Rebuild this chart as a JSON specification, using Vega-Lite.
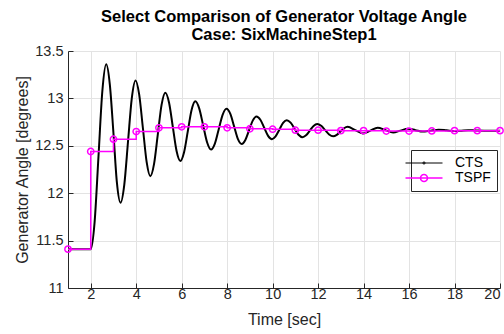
{
  "$schema": "https://vega.github.io/schema/vega-lite/v6.json",
  "width": 432,
  "height": 237,
  "autosize": {"type": "none"},
  "padding": {"left": 68, "top": 51, "right": 4, "bottom": 46},
  "background": "white",
  "title": {
    "text": ["Select Comparison of Generator Voltage Angle", "Case: SixMachineStep1"],
    "font": "Liberation Sans",
    "fontSize": 16.5,
    "fontWeight": "bold",
    "color": "black",
    "anchor": "middle",
    "offset": 0,
    "lineHeight": 18
  },
  "config": {
    "font": "Liberation Sans",
    "view": {"stroke": null},
    "axis": {
      "domainColor": "#262626",
      "tickColor": "#262626",
      "labelColor": "#262626",
      "titleColor": "#262626",
      "gridColor": "#e3e3e3",
      "labelFont": "Liberation Sans",
      "titleFont": "Liberation Sans",
      "labelFontSize": 14.5,
      "titleFontSize": 16,
      "titleFontWeight": "normal",
      "tickSize": -5,
      "domainWidth": 1,
      "tickWidth": 1
    }
  },
  "datasets": {
    "cts": [
      {"t": 1, "v": 11.41}, {"t": 2, "v": 11.41}, {"t": 2.17, "v": 11.695}, {"t": 2.34, "v": 12.385},
      {"t": 2.51, "v": 13.075}, {"t": 2.68, "v": 13.36}, {"t": 2.84, "v": 13.146}, {"t": 3.0, "v": 12.63},
      {"t": 3.15, "v": 12.114}, {"t": 3.31, "v": 11.9}, {"t": 3.475, "v": 12.089}, {"t": 3.64, "v": 12.545},
      {"t": 3.805, "v": 13.001}, {"t": 3.97, "v": 13.19}, {"t": 4.13, "v": 13.042}, {"t": 4.295, "v": 12.685},
      {"t": 4.46, "v": 12.328}, {"t": 4.62, "v": 12.18}, {"t": 4.785, "v": 12.309}, {"t": 4.95, "v": 12.62},
      {"t": 5.115, "v": 12.931}, {"t": 5.28, "v": 13.06}, {"t": 5.445, "v": 12.955}, {"t": 5.61, "v": 12.7},
      {"t": 5.775, "v": 12.445}, {"t": 5.94, "v": 12.34}, {"t": 6.105, "v": 12.432}, {"t": 6.27, "v": 12.655},
      {"t": 6.435, "v": 12.878}, {"t": 6.6, "v": 12.97}, {"t": 6.77, "v": 12.895}, {"t": 6.945, "v": 12.715},
      {"t": 7.12, "v": 12.535}, {"t": 7.29, "v": 12.46}, {"t": 7.46, "v": 12.523}, {"t": 7.63, "v": 12.675},
      {"t": 7.8, "v": 12.827}, {"t": 7.97, "v": 12.89}, {"t": 8.14, "v": 12.836}, {"t": 8.305, "v": 12.705},
      {"t": 8.47, "v": 12.574}, {"t": 8.64, "v": 12.52}, {"t": 8.8, "v": 12.562}, {"t": 8.965, "v": 12.665},
      {"t": 9.13, "v": 12.768}, {"t": 9.29, "v": 12.81}, {"t": 9.46, "v": 12.775}, {"t": 9.63, "v": 12.69},
      {"t": 9.8, "v": 12.605}, {"t": 9.97, "v": 12.57}, {"t": 10.13, "v": 12.599}, {"t": 10.295, "v": 12.67},
      {"t": 10.46, "v": 12.741}, {"t": 10.62, "v": 12.77}, {"t": 10.79, "v": 12.744}, {"t": 10.965, "v": 12.68},
      {"t": 11.14, "v": 12.616}, {"t": 11.31, "v": 12.59}, {"t": 11.47, "v": 12.61}, {"t": 11.635, "v": 12.66},
      {"t": 11.8, "v": 12.71}, {"t": 11.96, "v": 12.73}, {"t": 12.135, "v": 12.711}, {"t": 12.31, "v": 12.665},
      {"t": 12.485, "v": 12.619}, {"t": 12.66, "v": 12.6}, {"t": 12.82, "v": 12.615}, {"t": 12.98, "v": 12.65},
      {"t": 13.14, "v": 12.685}, {"t": 13.3, "v": 12.7}, {"t": 13.635, "v": 12.665}, {"t": 13.97, "v": 12.63},
      {"t": 14.295, "v": 12.66}, {"t": 14.62, "v": 12.69}, {"t": 14.96, "v": 12.665}, {"t": 15.3, "v": 12.64},
      {"t": 15.62, "v": 12.66}, {"t": 15.95, "v": 12.68}, {"t": 16.28, "v": 12.665}, {"t": 16.6, "v": 12.65},
      {"t": 16.95, "v": 12.66}, {"t": 17.3, "v": 12.67}, {"t": 17.65, "v": 12.663}, {"t": 18.0, "v": 12.655},
      {"t": 18.3, "v": 12.66}, {"t": 18.6, "v": 12.665}, {"t": 18.95, "v": 12.662}, {"t": 19.3, "v": 12.66},
      {"t": 20, "v": 12.66}
    ],
    "tspf": [
      {"t": 1, "v": 11.41}, {"t": 2, "v": 12.44}, {"t": 3, "v": 12.57}, {"t": 4, "v": 12.65},
      {"t": 5, "v": 12.69}, {"t": 6, "v": 12.7}, {"t": 7, "v": 12.7}, {"t": 8, "v": 12.69},
      {"t": 9, "v": 12.68}, {"t": 10, "v": 12.675}, {"t": 11, "v": 12.665}, {"t": 12, "v": 12.665},
      {"t": 13, "v": 12.66}, {"t": 14, "v": 12.66}, {"t": 15, "v": 12.655}, {"t": 16, "v": 12.655},
      {"t": 17, "v": 12.657}, {"t": 18, "v": 12.66}, {"t": 19, "v": 12.66}, {"t": 20, "v": 12.66}
    ]
  },
  "encoding": {
    "x": {
      "field": "t", "type": "quantitative",
      "scale": {"domain": [1, 20], "nice": false, "zero": false},
      "axis": {"values": [2, 4, 6, 8, 10, 12, 14, 16, 18, 20], "title": "Time [sec]", "labelPadding": 4, "titlePadding": 11}
    },
    "y": {
      "field": "v", "type": "quantitative",
      "scale": {"domain": [11, 13.5], "nice": false, "zero": false},
      "axis": {"values": [11, 11.5, 12, 12.5, 13, 13.5], "format": "~g", "title": "Generator Angle [degrees]", "labelPadding": 10, "titlePadding": 4}
    },
    "color": {
      "scale": {"domain": ["CTS", "TSPF"], "range": ["black", "#ff00ff"]},
      "legend": {
        "title": null,
        "orient": "none",
        "legendX": 343,
        "legendY": 99,
        "direction": "vertical",
        "strokeColor": "#262626",
        "fillColor": "white",
        "padding": 6,
        "cornerRadius": 0,
        "labelFontSize": 14,
        "labelColor": "black",
        "labelFont": "Liberation Sans",
        "symbolSize": 1369,
        "symbolType": "M-1,0H1",
        "rowPadding": 1,
        "labelOffset": 24,
        "encode": {
          "symbols": {
            "update": {
              "shape": {"signal": "datum.value === 'CTS' ? 'M-1,0H1M-0.06,0A0.06,0.06 0 1,1 0.06,0A0.06,0.06 0 1,1 -0.06,0' : 'M-1,0H1M0.19,0A0.19,0.19 0 1,1 -0.19,0A0.19,0.19 0 1,1 0.19,0'"},
              "strokeWidth": {"signal": "datum.value === 'CTS' ? 1 : 1.5"},
              "fill": {"value": "transparent"},
              "opacity": {"value": 1}
            }
          }
        }
      }
    }
  },
  "layer": [
    {
      "data": {"name": "cts"},
      "mark": {"type": "line", "interpolate": "monotone", "strokeWidth": 2},
      "encoding": {"color": {"datum": "CTS"}}
    },
    {
      "data": {"name": "tspf"},
      "mark": {"type": "line", "interpolate": "step-after", "strokeWidth": 1.5},
      "encoding": {"color": {"datum": "TSPF"}}
    },
    {
      "data": {"name": "tspf"},
      "mark": {"type": "point", "shape": "circle", "filled": false, "size": 40, "strokeWidth": 1.5, "opacity": 1},
      "encoding": {"color": {"datum": "TSPF"}}
    }
  ]
}
